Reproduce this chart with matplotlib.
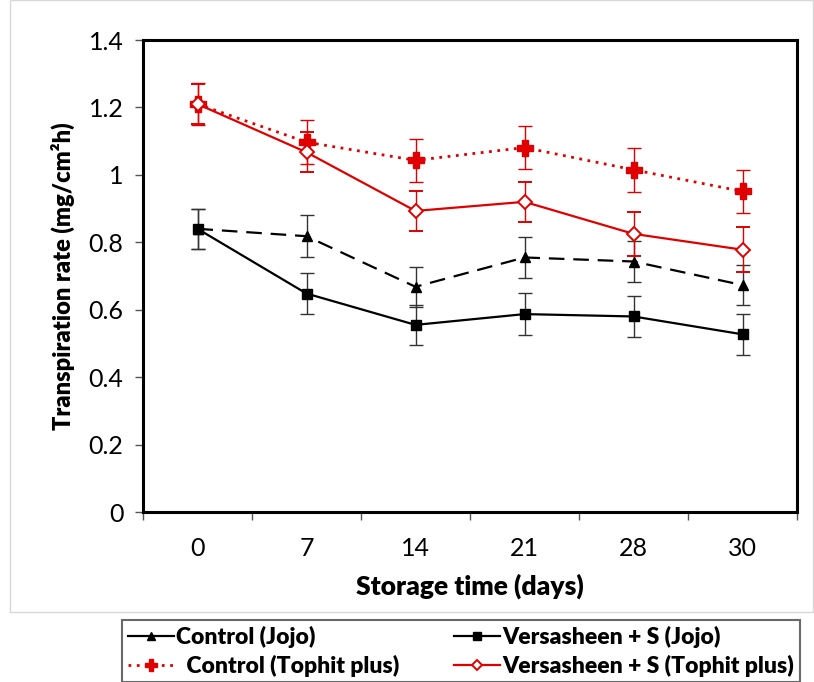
import matplotlib.pyplot as plt
from matplotlib.patches import Rectangle
from matplotlib.lines import Line2D

plt.rcParams['font.family'] = ['Lato', 'DejaVu Sans']

days = ["0", "7", "14", "21", "28", "30"]

control_jojo = [0.84, 0.818, 0.668, 0.755, 0.743, 0.673]
versa_jojo = [0.84, 0.648, 0.555, 0.587, 0.580, 0.527]
control_tophit = [1.21, 1.097, 1.043, 1.081, 1.015, 0.951]
versa_tophit = [1.21, 1.067, 0.893, 0.920, 0.825, 0.778]

err_cj = [0.06, 0.062, 0.06, 0.06, 0.06, 0.06]
err_vj = [0.06, 0.06, 0.06, 0.062, 0.062, 0.06]
err_ct = [0.062, 0.065, 0.063, 0.063, 0.065, 0.063]
err_vt = [0.06, 0.06, 0.06, 0.06, 0.066, 0.067]

fig = plt.figure(figsize=(8.14, 6.82), dpi=100)
ax = fig.add_axes([143/814, 1-512/682, (797-143)/814, (512-40)/682])

x = list(range(len(days)))
red = "#e00000"

# outer light frame
fig.patches.append(Rectangle((10/814, 1-612/682), 803/814, 612/682, transform=fig.transFigure,
                             fill=False, edgecolor="#d8d8d8", lw=1))

styles = [
    dict(color="black", lw=1.6, ls=(0, (7, 4)), marker="^", ms=7.5),
    dict(color="black", lw=1.6, ls="-", marker="s", ms=7),
    dict(color=red, lw=2, ls=(0, (1, 2.0)), marker="P", ms=11),
    dict(color=red, lw=1.6, ls="-", marker="D", ms=7, mfc="white", mec=red, mew=1.4),
]
series = [control_jojo, versa_jojo, control_tophit, versa_tophit]
errs = [err_cj, err_vj, err_ct, err_vt]
ecols = ["#333333", "#333333", red, red]

for vals, e, st, ec in zip(series, errs, styles, ecols):
    ax.errorbar(x, vals, yerr=e, capsize=5, elinewidth=1, ecolor=ec, **st)

ax.set_xlim(-0.5, 5.5)
ax.set_ylim(0, 1.4)
ax.set_yticks([0, 0.2, 0.4, 0.6, 0.8, 1.0, 1.2, 1.4])
ax.set_yticklabels(["0", "0.2", "0.4", "0.6", "0.8", "1", "1.2", "1.4"])
ax.set_xticks(x)
ax.set_xticklabels(days)
ax.set_xticks([i - 0.5 for i in range(7)], minor=True)
ax.tick_params(axis="x", which="major", length=0, pad=18, labelsize=18)
ax.tick_params(axis="x", which="minor", length=6, width=1, direction="out", color="#555555")
ax.tick_params(axis="y", length=6, width=1, direction="out", labelsize=18, pad=8, color="#555555")
for s in ax.spines.values():
    s.set_linewidth(2.2)
    s.set_color("black")

ax.set_xlabel("Storage time (days)", fontsize=19, fontweight="heavy", labelpad=10)
ax.set_ylabel("Transpiration rate (mg/cm²h)", fontsize=17, fontweight="heavy", labelpad=10)

# legend
labels = ["Control (Jojo)", "Versasheen + S (Jojo)", "  Control (Tophit plus)", "Versasheen + S (Tophit plus)"]
leg_handles = []
for i, st in enumerate(styles):
    s = dict(st)
    s["ms"] = s["ms"] * 0.75
    if i == 0:
        s["ls"] = "-"
    leg_handles.append(Line2D([], [], **s))
order = [0, 2, 1, 3]
leg = fig.legend([leg_handles[i] for i in order], [labels[i] for i in order], ncol=2, loc="upper left",
                 bbox_to_anchor=(122/814, 0, 678/814, 1-620/682), mode="expand",
                 frameon=True, fancybox=False, edgecolor="#444444",
                 prop={"weight": "heavy", "size": 16.5}, handlelength=2.0, handletextpad=0.1,
                 borderpad=0.25, labelspacing=0.3, borderaxespad=0)
leg.get_frame().set_linewidth(1.5)

fig.savefig("out.png", dpi=100)
